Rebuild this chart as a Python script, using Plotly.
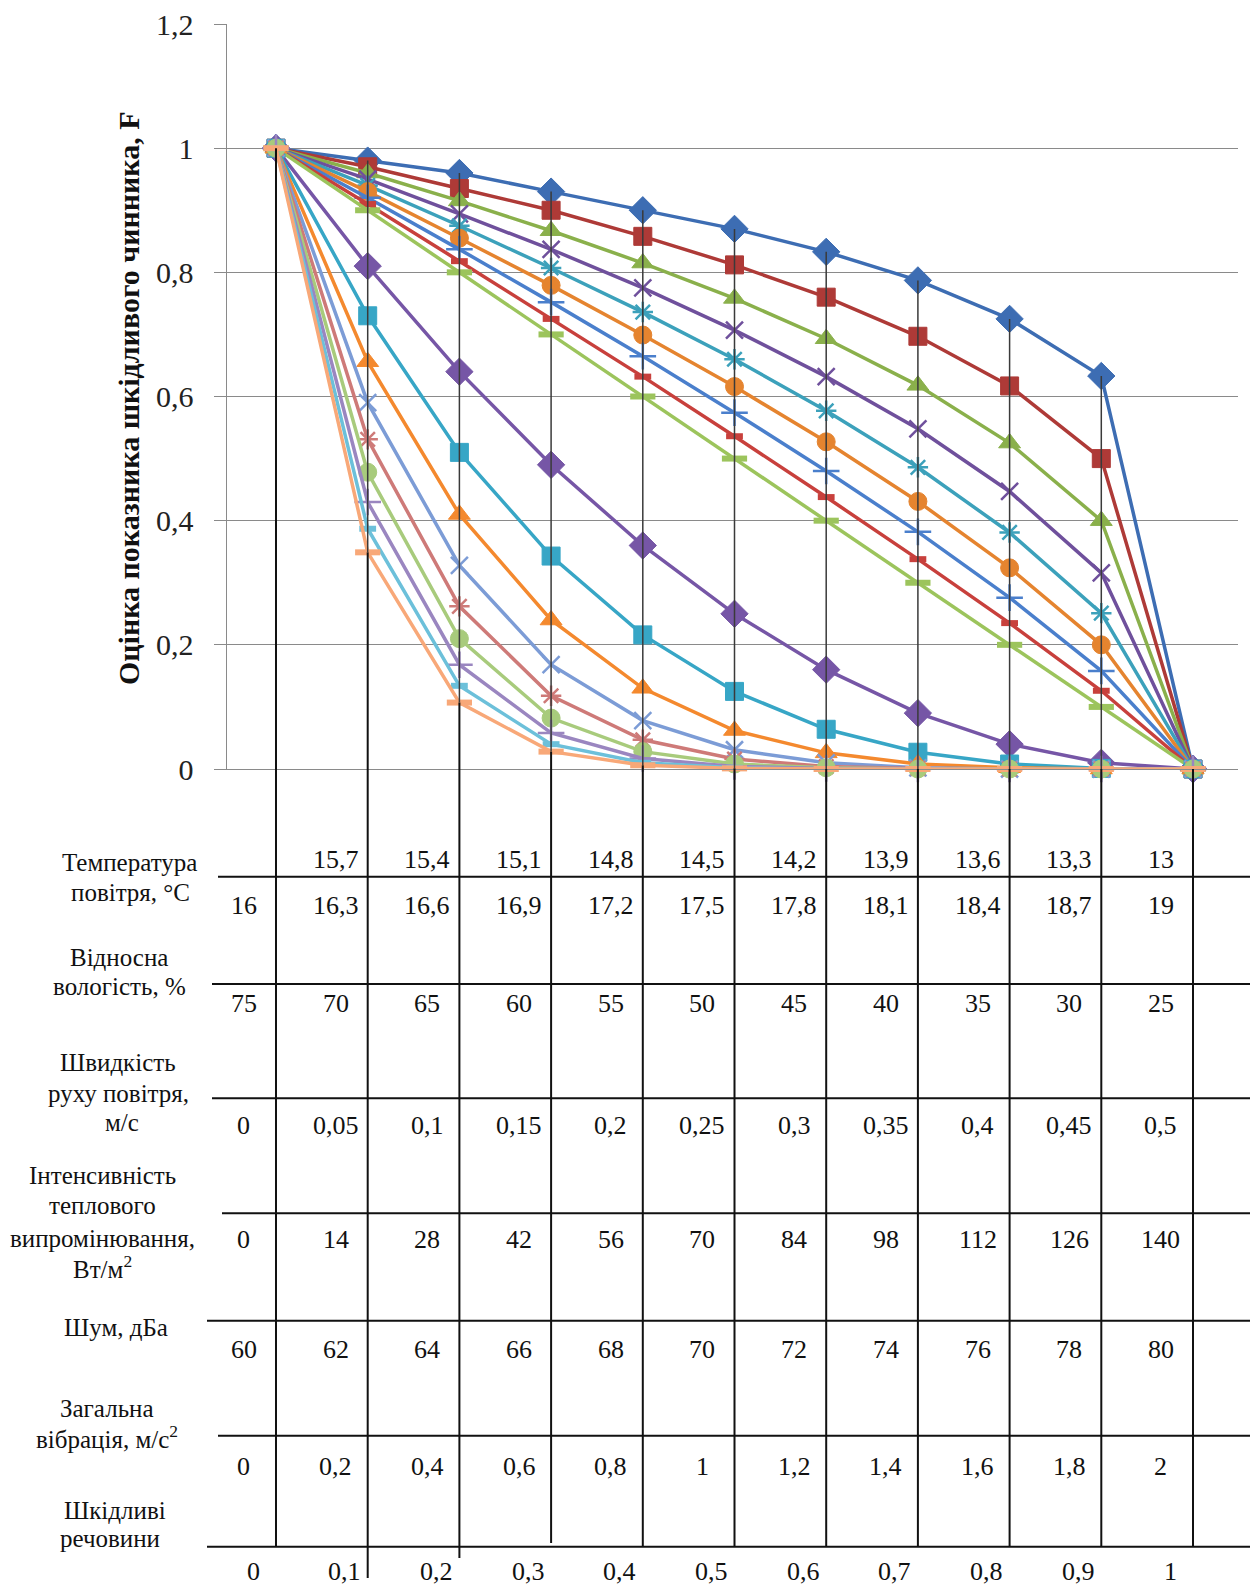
import plotly.graph_objects as go

W, H = 1250, 1585

# ---------------- data ----------------
x_vals = [0, 0.1, 0.2, 0.3, 0.4, 0.5, 0.6, 0.7, 0.8, 0.9, 1.0]

s1 = [1, 0.98, 0.96, 0.93, 0.90, 0.87, 0.833, 0.787, 0.725, 0.633, 0]
s2 = [1, 0.97, 0.935, 0.90, 0.858, 0.812, 0.76, 0.697, 0.617, 0.50, 0]
s3 = [1, 0.96, 0.915, 0.867, 0.815, 0.758, 0.693, 0.618, 0.525, 0.40, 0]
s4 = [1, 0.95, 0.894, 0.837, 0.775, 0.707, 0.632, 0.548, 0.447, 0.316, 0]
s5 = [1, 0.94, 0.875, 0.807, 0.736, 0.66, 0.577, 0.486, 0.381, 0.251, 0]
s6 = [1, 0.93, 0.855, 0.779, 0.699, 0.616, 0.527, 0.431, 0.324, 0.20, 0]
s7 = [1, 0.92, 0.837, 0.752, 0.665, 0.574, 0.48, 0.382, 0.276, 0.158, 0]
s8 = [1, 0.91, 0.818, 0.725, 0.632, 0.536, 0.438, 0.338, 0.235, 0.126, 0]
s9 = [1, 0.90, 0.80, 0.70, 0.60, 0.50, 0.40, 0.30, 0.20, 0.10, 0]
s10 = [1, 0.81, 0.64, 0.49, 0.36, 0.25, 0.16, 0.09, 0.04, 0.01, 0]
s11 = [1, 0.73, 0.51, 0.343, 0.216, 0.125, 0.064, 0.027, 0.008, 0.001, 0]
s12 = [1, 0.656, 0.41, 0.24, 0.13, 0.062, 0.026, 0.008, 0.002, 0, 0]
s13 = [1, 0.59, 0.328, 0.168, 0.078, 0.031, 0.01, 0.002, 0, 0, 0]
s14 = [1, 0.531, 0.262, 0.118, 0.047, 0.016, 0.004, 0.001, 0, 0, 0]
s15 = [1, 0.478, 0.21, 0.082, 0.028, 0.008, 0.002, 0, 0, 0, 0]
s16 = [1, 0.43, 0.168, 0.058, 0.017, 0.004, 0.001, 0, 0, 0, 0]
s17 = [1, 0.387, 0.134, 0.04, 0.01, 0.002, 0, 0, 0, 0, 0]
s18 = [1, 0.349, 0.107, 0.028, 0.006, 0.001, 0, 0, 0, 0, 0]
SERIES = [s1, s2, s3, s4, s5, s6, s7, s8, s9, s10, s11, s12, s13, s14, s15, s16, s17, s18]

y_tick_vals = [0, 0.2, 0.4, 0.6, 0.8, 1.0, 1.2]
y_tick_text = ["0", "0,2", "0,4", "0,6", "0,8", "1", "1,2"]
y_title = "Оцінка показника шкідливого чинника, F"

temp_low = [None, 15.7, 15.4, 15.1, 14.8, 14.5, 14.2, 13.9, 13.6, 13.3, 13]
temp_high = [16, 16.3, 16.6, 16.9, 17.2, 17.5, 17.8, 18.1, 18.4, 18.7, 19]
humidity = [75, 70, 65, 60, 55, 50, 45, 40, 35, 30, 25]
air_speed = [0, 0.05, 0.1, 0.15, 0.2, 0.25, 0.3, 0.35, 0.4, 0.45, 0.5]
radiation = [0, 14, 28, 42, 56, 70, 84, 98, 112, 126, 140]
noise = [60, 62, 64, 66, 68, 70, 72, 74, 76, 78, 80]
vibration = [0, 0.2, 0.4, 0.6, 0.8, 1, 1.2, 1.4, 1.6, 1.8, 2]
harmful = [0, 0.1, 0.2, 0.3, 0.4, 0.5, 0.6, 0.7, 0.8, 0.9, 1]

row_labels = [
    ["Температура", "повітря, °С"],
    ["Відносна", "вологість, %"],
    ["Швидкість", "руху повітря,", "м/с"],
    ["Інтенсивність", "теплового", "випромінювання,", "Вт/м<sup>2</sup>"],
    ["Шум, дБа"],
    ["Загальна", "вібрація, м/с<sup>2</sup>"],
    ["Шкідливі", "речовини"],
]

# ---------------- style ----------------
COLORS = ["#3D6DB3", "#AE3A37", "#8AB04B", "#6F509C", "#3CA1BB", "#E5842F",
          "#4A7FCC", "#C8403C", "#9CC45C", "#7656A6", "#37A6C6", "#F4892E",
          "#7C9CD6", "#CE7A78", "#A8CB7C", "#9A86C0", "#6CC0DA", "#F8A878"]
# (symbol, size, marker line width)
MARKERS = [("diamond", 21, 1), ("square", 18, 1), ("triangle-up", 19, 1),
           ("x-thin-open", 17, 2.5), ("asterisk-open", 17, 2.5), ("circle", 18, 1),
           ("cross-thin-open", 19, 2.5), ("line-ew-open", 12, 6), ("line-ew-open", 18, 6),
           ("diamond", 21, 1), ("square", 18, 1), ("triangle-up", 19, 1),
           ("x-thin-open", 17, 2.5), ("asterisk-open", 17, 2.5), ("circle", 18, 1),
           ("cross-thin-open", 19, 2.5), ("line-ew-open", 12, 6), ("line-ew-open", 18, 6)]

FONT = "Liberation Serif"
GRID = "#8A8A8A"

PLOT_LEFT, PLOT_RIGHT, PLOT_TOP, PLOT_BOTTOM = 226.7, 1238.0, 24.0, 769.0
X0_PX, X1_PX = 276.0, 1193.0          # pixel positions of x=0 and x=1
step = (X1_PX - X0_PX)
x_range = [(PLOT_LEFT - X0_PX) / step, (PLOT_RIGHT - X0_PX) / step]


def py(p):
    return 1 - p / H


def fmt(v):
    return ("%g" % v).replace(".", ",")


fig = go.Figure()

for i, s in enumerate(SERIES):
    sym, size, lw = MARKERS[i]
    fig.add_trace(go.Scatter(
        x=x_vals, y=s, mode="lines+markers", cliponaxis=False,
        line=dict(color=COLORS[i], width=3.5),
        marker=dict(symbol=sym, size=size, color=COLORS[i],
                    line=dict(color=COLORS[i], width=lw)),
        hoverinfo="skip", showlegend=False))

# high-low lines (max to min at each category) + black drop from min to axis
hx, hy, bx, by = [], [], [], []
for j, xv in enumerate(x_vals):
    col = [s[j] for s in SERIES]
    hi, lo = max(col), min(col)
    if hi > lo:
        hx += [xv, xv, None]
        hy += [hi, lo, None]
    if lo > 0:
        bx += [xv, xv, None]
        by += [lo, 0, None]
fig.add_trace(go.Scatter(x=hx, y=hy, mode="lines", line=dict(color="#3A3A3A", width=1.5),
                         hoverinfo="skip", showlegend=False))
fig.add_trace(go.Scatter(x=bx, y=by, mode="lines", line=dict(color="#111111", width=2),
                         hoverinfo="skip", showlegend=False))

# table vertical lines (on a pixel-row axis y2 below the plot)
TABLE_BOTTOMS = [1547, 1578, 1558, 1543, 1547, 1547, 1547, 1547, 1547, 1547, 1547]
tx, ty = [], []
for j, xv in enumerate(x_vals):
    tx += [xv, xv, None]
    ty += [PLOT_BOTTOM, TABLE_BOTTOMS[j], None]
fig.add_trace(go.Scatter(x=tx, y=ty, xaxis="x", yaxis="y2", mode="lines",
                         line=dict(color="#111111", width=2),
                         hoverinfo="skip", showlegend=False))

# horizontal table lines
H_LINES = [(876.7, 218), (984, 212), (1098.3, 212), (1213.3, 222),
           (1320.7, 207), (1435.7, 218), (1546.7, 207)]
shapes = []
for yp, xs in H_LINES:
    shapes.append(dict(type="line", xref="paper", yref="paper",
                       x0=xs / W, x1=1.0, y0=py(yp), y1=py(yp),
                       line=dict(color="#111111", width=2)))

annotations = []
# table values
rows = [(temp_low, 859, -0.035), (temp_high, 905, -0.035), (humidity, 1003, -0.035),
        (air_speed, 1125, -0.035), (radiation, 1239, -0.035), (noise, 1349, -0.035),
        (vibration, 1466, -0.035), (harmful, 1571, -0.025)]
for vals, yp, off in rows:
    for xv, v in zip(x_vals, vals):
        if v is None:
            continue
        annotations.append(dict(x=xv + off, y=yp, xref="x", yref="y2", text=fmt(v),
                                showarrow=False, xanchor="center", yanchor="middle",
                                font=dict(family=FONT, size=26, color="#111111")))

# row labels (centre x, y of each line)
LABEL_POS = [
    [(129, 862), (130, 892)],
    [(119, 957), (119, 986)],
    [(118, 1062), (118, 1093), (122, 1122)],
    [(102, 1175), (102, 1205), (102, 1238), (102, 1267)],
    [(116, 1327)],
    [(107, 1408), (107, 1437)],
    [(115, 1510), (110, 1538)],
]
for lines, poss in zip(row_labels, LABEL_POS):
    for t, (xp, yp) in zip(lines, poss):
        annotations.append(dict(x=xp / W, y=yp, xref="paper", yref="y2", text=t,
                                showarrow=False, xanchor="center", yanchor="middle",
                                font=dict(family=FONT, size=25, color="#111111")))

# y-axis title
annotations.append(dict(x=129 / W, y=py(399), xref="paper", yref="paper",
                        text="<b>" + y_title + "</b>", textangle=-90, showarrow=False,
                        xanchor="center", yanchor="middle",
                        font=dict(family=FONT, size=30, color="#111111")))

fig.update_layout(
    template="none",
    width=W, height=H, margin=dict(l=0, r=0, t=0, b=0, pad=0, autoexpand=False),
    paper_bgcolor="white", plot_bgcolor="white", showlegend=False,
    xaxis=dict(domain=[PLOT_LEFT / W, PLOT_RIGHT / W], range=x_range, anchor="y",
               automargin=False,
               showgrid=False, zeroline=False, showline=True, linecolor=GRID, linewidth=1.3,
               showticklabels=False, ticks=""),
    yaxis=dict(domain=[py(PLOT_BOTTOM), py(PLOT_TOP)], range=[0, 1.2], anchor="x",
               automargin=False,
               tickvals=y_tick_vals, ticktext=y_tick_text, showgrid=True, gridcolor=GRID,
               gridwidth=1.3, zeroline=False, showline=True, linecolor=GRID, linewidth=1.3,
               ticks="outside", ticklen=12, tickwidth=1.3, tickcolor=GRID,
               ticklabelstandoff=14,
               tickfont=dict(family=FONT, size=30, color="#222222")),
    yaxis2=dict(domain=[0, py(PLOT_BOTTOM)], range=[H, PLOT_BOTTOM], anchor="x",
                automargin=False, visible=False, showgrid=False, zeroline=False),
    shapes=shapes, annotations=annotations,
)

fig.write_html("out.html", config={"displayModeBar": False},
               post_script="document.body.style.margin='0px';")
